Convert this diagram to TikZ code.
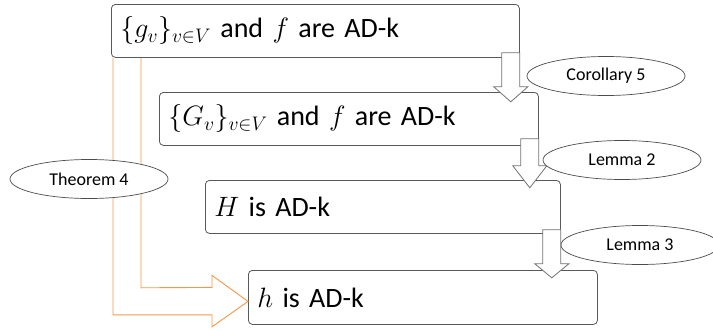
\RequirePackage{fix-cm}
\documentclass[tikz,border=0pt]{standalone}
\usepackage{fontspec}
\setmainfont{Carlito}
\usetikzlibrary{shapes.geometric,calc}

\definecolor{thmorange}{RGB}{247,150,70}

\newcommand{\downblock}[3]{\draw[blockarr] (#1) -- ++(0,#2) -- ++(8,0) -- ++(-17,#3) -- ++(-17,-#3) -- ++(8,0) -- ++(0,-#2) -- cycle;}

\begin{document}
\begin{tikzpicture}[x=1pt,y=-1pt,
  stmt/.style={draw=black!65, fill=white, line width=0.8pt, rounded corners=4pt, anchor=north west,
    minimum height=53pt, inner xsep=9pt, align=left, font=\fontsize{28}{32}\selectfont},
  lemma/.style={ellipse, draw=black!70, fill=white, line width=0.7pt, minimum width=158pt,
    minimum height=39pt, inner sep=0pt, font=\fontsize{18}{22}\selectfont},
  blockarr/.style={draw=black!55, fill=white, line width=0.8pt, line join=miter},
  thmarr/.style={draw=thmorange, line width=0.9pt}]

\useasboundingbox (0,0) rectangle (713,330);

\node[stmt, text width=390pt] (gset) at (111,4) {$\{g_v\}_{v\in V}$ and $f$ are AD-k};
\node[stmt, text width=361pt] (Gset) at (159,92) {$\{G_v\}_{v\in V}$ and $f$ are AD-k};
\node[stmt, text width=337pt] (Hbox) at (205,180) {$H$ is AD-k};
\node[stmt, text width=331pt, minimum height=54pt] (hbox) at (248,270) {$h$ is AD-k};


\coordinate (tip) at ($(hbox.west)+(0,4)$);
\draw[thmarr] ($(gset.south west)+(2,0)$) -- ($(gset.south west)+(2,257)$) -- ++(99,0) -- ++(0,12) -- (tip)
  -- ++(-36,-26) -- ++(0,12) -- ($(gset.south west)+(30,230)$) -- ($(gset.south west)+(30,0)$);


\downblock{$(gset.south east)+(0,-5)$}{34}{15}
\downblock{$(Gset.south east)+(0,-7)$}{27}{22}
\downblock{$(Hbox.south east)+(0,-4)$}{34}{14}


\node[lemma] (cor5) at (606,76) {Corollary 5};
\node[lemma] (lem2) at (622,160) {Lemma 2};
\node[lemma] (lem3) at (640,245) {Lemma 3};
\node[lemma] (thm4) at (89,179) {Theorem 4};

\end{tikzpicture}
\end{document}
